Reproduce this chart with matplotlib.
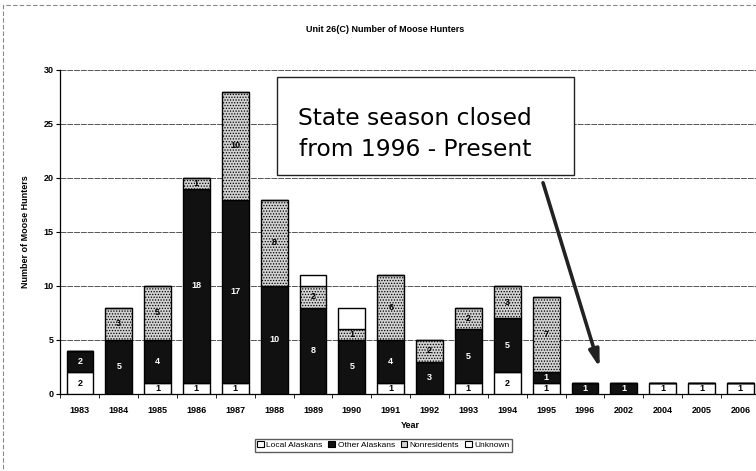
import numpy as np
import matplotlib
matplotlib.use("Agg")
import matplotlib.pyplot as plt
from matplotlib.patches import Rectangle, Patch

plt.rcParams['font.family'] = ['Liberation Sans', 'DejaVu Sans']
plt.rcParams['hatch.color'] = '#7a7a7a'
plt.rcParams['hatch.linewidth'] = 0.6

# Données
years = ['1983', '1984', '1985', '1986', '1987', '1988', '1989', '1990', '1991',
         '1992', '1993', '1994', '1995', '1996', '2002', '2004', '2005', '2006']
local = [2, 0, 1, 1, 1, 0, 0, 0, 1, 0, 1, 2, 1, 0, 0, 1, 1, 1]
other = [2, 5, 4, 18, 17, 10, 8, 5, 4, 3, 5, 5, 1, 1, 1, 0, 0, 0]
nonres = [0, 3, 5, 1, 10, 8, 2, 1, 6, 2, 2, 3, 7, 0, 0, 0, 0, 0]
unknown = [0, 0, 0, 0, 0, 0, 1, 2, 0, 0, 0, 0, 0, 0, 0, 0, 0, 0]

fig = plt.figure(figsize=(7.56, 4.71), dpi=100)
ax = fig.add_axes([0.080, 0.1635, 0.925, 0.688])

x = np.arange(len(years))
w = 0.69
b0 = np.zeros(len(years))
b1 = b0 + np.array(local)
b2 = b1 + np.array(other)
b3 = b2 + np.array(nonres)

ax.bar(x, local, w, bottom=b0, color='white', edgecolor='black', lw=1.0, zorder=3)
ax.bar(x, other, w, bottom=b1, color='#111111', edgecolor='black', lw=1.0, zorder=3)
ax.bar(x, nonres, w, bottom=b2, color='#d2d2d2', edgecolor='black', lw=1.0,
       hatch='......', zorder=3)
ax.bar(x, unknown, w, bottom=b3, color='white', edgecolor='black', lw=1.0, zorder=3)

# étiquettes des segments
for i in range(len(years)):
    if local[i]:
        ax.text(x[i], b1[i] - local[i] / 2, str(local[i]), ha='center', va='center',
                fontsize=6.5, fontweight='bold', color='black', zorder=4)
    if other[i]:
        ax.text(x[i], b2[i] - other[i] / 2, str(other[i]), ha='center', va='center',
                fontsize=6.5, fontweight='bold', color='white', zorder=4)
    if nonres[i]:
        ax.text(x[i], b3[i] - nonres[i] / 2, str(nonres[i]), ha='center', va='center',
                fontsize=6.5, fontweight='bold', color='black', zorder=4)

ax.set_xlim(-0.47, 17.45)
ax.set_ylim(0, 30)
ax.set_yticks(range(0, 31, 5))
ax.set_xticks(x)
ax.set_xticklabels(years)
ax.set_xticks(np.arange(-0.5, 17.6, 1), minor=True)
ax.tick_params(axis='x', which='major', length=0, labelsize=6.5, pad=9)
ax.tick_params(axis='x', which='minor', length=3, direction='out')
ax.tick_params(axis='y', length=3, labelsize=6.5, pad=2)
for lab in ax.get_xticklabels() + ax.get_yticklabels():
    lab.set_fontweight('bold')

ax.grid(axis='y', color='#555555', lw=0.7, ls=(0, (6, 1)), zorder=0)
for s in ['top', 'right']:
    ax.spines[s].set_visible(False)
ax.spines['left'].set_linewidth(0.9)
ax.spines['bottom'].set_linewidth(0.9)

ax.set_xlabel('Year', fontsize=6.5, fontweight='bold', labelpad=4)
ax.set_ylabel('Number of Moose Hunters', fontsize=6.5, fontweight='bold', labelpad=10)

fig.text(0.509, 0.938, 'Unit 26(C) Number of Moose Hunters', ha='center', va='center',
         fontsize=6.5, fontweight='bold')

# encadré d'annotation
ax.add_patch(Rectangle((5.08, 20.28), 7.63, 9.07, fc='white', ec='#222222',
                       lw=1.0, zorder=6))
ax.text(8.62, 24.07, 'State season closed\nfrom 1996 - Present', ha='center', va='center',
        fontsize=16.8, family=['DejaVu Sans'], linespacing=1.43, zorder=7)
ax.annotate('', xy=(13.4, 2.2), xytext=(11.9, 19.8), zorder=6,
            arrowprops=dict(arrowstyle='-|>,head_length=1.0,head_width=0.3',
                            color='#222222', lw=2.6))

# légende
handles = [Patch(fc='white', ec='black', lw=0.8),
           Patch(fc='#111111', ec='black', lw=0.8),
           Patch(fc='#d2d2d2', ec='black', lw=0.8),
           Patch(fc='white', ec='black', lw=0.8)]
fig.legend(handles, ['Local Alaskans', 'Other Alaskans', 'Nonresidents', 'Unknown'],
           loc='center', bbox_to_anchor=(0.507, 0.055), ncol=4, fontsize=6,
           frameon=True, fancybox=False, edgecolor='#333333', handlelength=0.8,
           handleheight=0.8, handletextpad=0.3, columnspacing=0.7, borderpad=0.3)

# cadre du graphique
fig.patches.append(Rectangle((0.004, -0.01), 1.0, 1.0, transform=fig.transFigure,
                             fill=False, ec='#888888', lw=0.8, ls=(0, (4, 2))))

fig.savefig('out.png', dpi=100)
